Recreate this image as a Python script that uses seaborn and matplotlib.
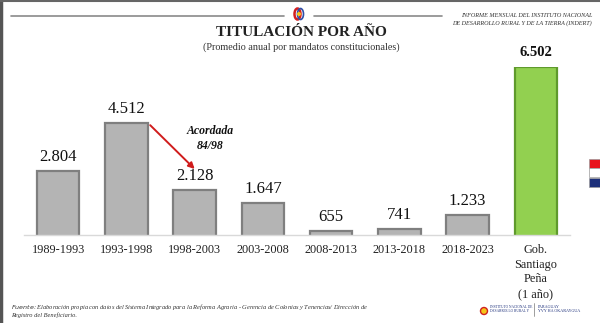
import matplotlib
matplotlib.use("Agg")
import matplotlib.pyplot as plt
import seaborn as sns
import numpy as np
from matplotlib.patches import Rectangle, Ellipse

categories = ["1989-1993", "1993-1998", "1998-2003", "2003-2008",
              "2008-2013", "2013-2018", "2018-2023", "Gob.\nSantiago\nPeña\n(1 año)"]
values = [2804, 4512, 2128, 1647, 655, 741, 1233, 6502]
bar_colors = ["#b4b4b4"] * 7 + ["#92d050"]
edge_colors = ["#7f7f7f"] * 7 + ["#5f9a2c"]

sns.set_theme(style="white")
plt.rcParams["font.family"] = ["Liberation Serif", "DejaVu Serif"]

W, H = 600, 323
def fx(px):
    return px / W
def fy(py):
    return 1 - py / H

fig = plt.figure(figsize=(6.0, 3.23), dpi=100)
ax = fig.add_axes([fx(24), fy(235), 546 / W, 168 / H])

sns.barplot(x=categories, y=values, hue=categories, palette=bar_colors,
            legend=False, width=0.62, saturation=1, ax=ax)
for p, ec in zip(ax.patches, edge_colors):
    p.set_edgecolor(ec)
    p.set_linewidth(1.6)

ax.set_ylim(520, 6502)
ax.set_xlim(-0.5, len(categories) - 0.5)
ax.set_xlabel("")
ax.set_ylabel("")
ax.set_yticks([])
for s in ["left", "right", "top"]:
    ax.spines[s].set_visible(False)
ax.spines["bottom"].set_color("#d9d9d9")
ax.spines["bottom"].set_linewidth(1.0)
ax.set_xticks(range(len(categories)))
ax.set_xticklabels(categories, linespacing=1.3)
ax.tick_params(axis="x", length=0, labelsize=8.8, pad=6.5, colors="#222222")
ax.set_xticks(np.arange(-0.5, len(categories)), minor=True)
ax.tick_params(axis="x", which="minor", length=3, color="#d9d9d9", width=0.8)

for i, (p, v) in enumerate(zip(ax.patches, values)):
    lbl = f"{v:,}".replace(",", ".")
    last = i == len(values) - 1
    ax.annotate(lbl, (p.get_x() + p.get_width() / 2, p.get_height()),
                xytext=(0, 6 if last else 4.5), textcoords="offset points",
                ha="center", va="bottom",
                fontsize=10.5 if last else 12, fontweight="bold" if last else "normal",
                color="#111111", annotation_clip=False)

# Annotation arrow
ax.annotate("", xy=(2.03, 2800), xytext=(1.32, 4500),
            arrowprops=dict(arrowstyle="-|>", color="#d01c1c", lw=1.4,
                            mutation_scale=9), annotation_clip=False)
ax.text(2.23, 3950, "Acordada\n84/98", ha="center", va="center",
        fontsize=8.5, fontstyle="italic", fontweight="bold", color="#111111",
        linespacing=1.3)

# Titles
fig.text(fx(301), fy(32), "TITULACIÓN POR AÑO", ha="center", va="center",
         fontsize=11, fontweight="bold", color="#222222")
fig.text(fx(301), fy(47), "(Promedio anual por mandatos constitucionales)", ha="center",
         va="center", fontsize=7.3, color="#333333")

# Header lines and logo
fig.add_artist(plt.Line2D([fx(11), fx(284)], [fy(16)] * 2, color="#8a8a8a", lw=1.2))
fig.add_artist(plt.Line2D([fx(314), fx(442)], [fy(16)] * 2, color="#8a8a8a", lw=1.2))
cx, cy = 299, 14
fig.add_artist(Ellipse((fx(cx - 1.5), fy(cy)), 6 / W, 11 / H, transform=fig.transFigure,
                       facecolor="none", edgecolor="#d42020", lw=1.8))
fig.add_artist(Ellipse((fx(cx + 1.5), fy(cy)), 6 / W, 11 / H, transform=fig.transFigure,
                       facecolor="none", edgecolor="#2f4fa8", lw=1.2))
fig.add_artist(Ellipse((fx(cx), fy(cy)), 4 / W, 4 / H, transform=fig.transFigure,
                       facecolor="#f5c518", edgecolor="none"))
fig.text(fx(592), fy(19.5),
         "INFORME MENSUAL DEL INSTITUTO NACIONAL\nDE DESARROLLO RURAL Y DE LA TIERRA (INDERT)",
         ha="right", va="center", fontsize=4.4, fontstyle="italic", color="#333333",
         linespacing=1.6)

# Flag squares on the right
for k, c in enumerate(["#e8141c", "#ffffff", "#1c2f7a"]):
    fig.add_artist(Rectangle((fx(589), fy(158 + 9.7 * (k + 1))), 12 / W, 9 / H,
                             transform=fig.transFigure, facecolor=c,
                             edgecolor="#9a9a9a", lw=0.5))

# Footer
fig.text(fx(11), fy(307),
         r"$\bf{\it{Fuente}}$: Elaboración propia con datos del Sistema Integrado para la Reforma Agraria - Gerencia de Colonias y Tenencias/ Dirección de",
         ha="left", va="center", fontsize=4.6, fontstyle="italic", color="#333333")
fig.text(fx(11), fy(315), "Registro del Beneficiario.",
         ha="left", va="center", fontsize=4.6, fontstyle="italic", color="#333333")

# Bottom-right logos
fig.add_artist(Ellipse((fx(484), fy(311)), 7 / W, 7 / H, transform=fig.transFigure,
                       facecolor="#f5c518", edgecolor="#d02020", lw=1.0))
fig.text(fx(490), fy(309), "INSTITUTO NACIONAL DE\nDESARROLLO RURAL Y",
         ha="left", va="center", fontsize=2.5, color="#1c2f7a", linespacing=1.1)
fig.add_artist(plt.Line2D([fx(534), fx(534)], [fy(316), fy(303)], color="#777777", lw=0.5))
fig.text(fx(538), fy(309), "PARAGUAY\nYVY HA OKARAYGUA",
         ha="left", va="center", fontsize=3.0, color="#1c2f7a", linespacing=1.1)

# Frame (left and top edges)
fig.add_artist(plt.Line2D([0.002, 0.002], [0, 1], color="#555555", lw=2.5))
fig.add_artist(plt.Line2D([0, 1], [0.997, 0.997], color="#666666", lw=1.5))

fig.savefig("out.png", dpi=100, facecolor="white")
